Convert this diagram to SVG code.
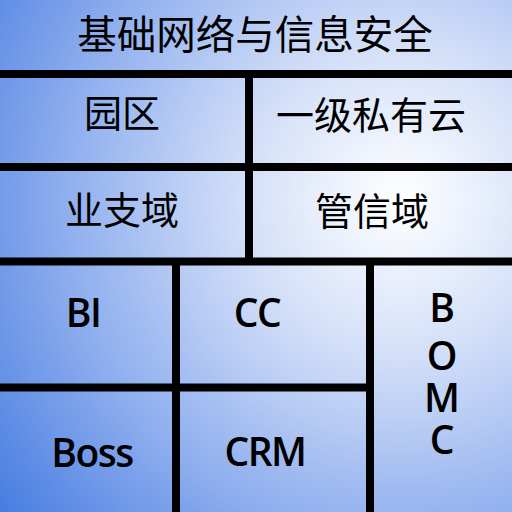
<svg xmlns="http://www.w3.org/2000/svg" width="512" height="512" viewBox="0 0 512 512">
<defs>
<radialGradient id="bg" gradientUnits="userSpaceOnUse" cx="400" cy="200" r="520">
<stop offset="0" stop-color="#ffffff"/>
<stop offset="0.3" stop-color="#d3dff8"/>
<stop offset="0.62" stop-color="#94b2ef"/>
<stop offset="1" stop-color="#4279e0"/>
</radialGradient>
<style>
.cjk{font-family:"Noto Sans CJK SC","Noto Sans",sans-serif;font-size:38px;fill:#000;text-anchor:middle}
.lat{font-family:"Open Sans","Noto Sans",sans-serif;font-size:39px;font-weight:600;letter-spacing:-1.5px;fill:#000;text-anchor:middle}
.div{stroke:#000;stroke-width:8;fill:none}
</style>
</defs>
<rect x="0" y="0" width="512" height="512" fill="url(#bg)"/>
<g id="title"><text class="cjk" x="255" y="49" style="font-size:39.5px">基础网络与信息安全</text></g>
<g id="yuanqu"><text class="cjk" x="122" y="127">园区</text></g>
<g id="siyouyun"><text class="cjk" x="371" y="129">一级私有云</text></g>
<g id="yezhiyu"><text class="cjk" x="122" y="224">业支域</text></g>
<g id="guanxinyu"><text class="cjk" x="372" y="225">管信域</text></g>
<g id="bi"><text class="lat" x="83" y="327">BI</text></g>
<g id="cc"><text class="lat" x="257" y="327">CC</text></g>
<g id="boss"><text class="lat" x="92" y="467">Boss</text></g>
<g id="crm"><text class="lat" x="265" y="466">CRM</text></g>
<g id="bomc"><text class="lat" style="letter-spacing:0"><tspan x="442" y="322">B</tspan><tspan x="442" y="370">O</tspan><tspan x="442" y="412">M</tspan><tspan x="442" y="454">C</tspan></text></g>
<g id="connectors">
<line class="div" x1="0" y1="74" x2="512" y2="74"/>
<line class="div" x1="0" y1="167" x2="512" y2="167"/>
<line class="div" x1="0" y1="261.5" x2="512" y2="261.5"/>
<line class="div" x1="249" y1="74" x2="249" y2="261"/>
<line class="div" x1="176" y1="261" x2="176" y2="512"/>
<line class="div" x1="370" y1="261" x2="370" y2="512"/>
<line class="div" x1="0" y1="387.5" x2="370" y2="387.5"/>
</g>
</svg>
